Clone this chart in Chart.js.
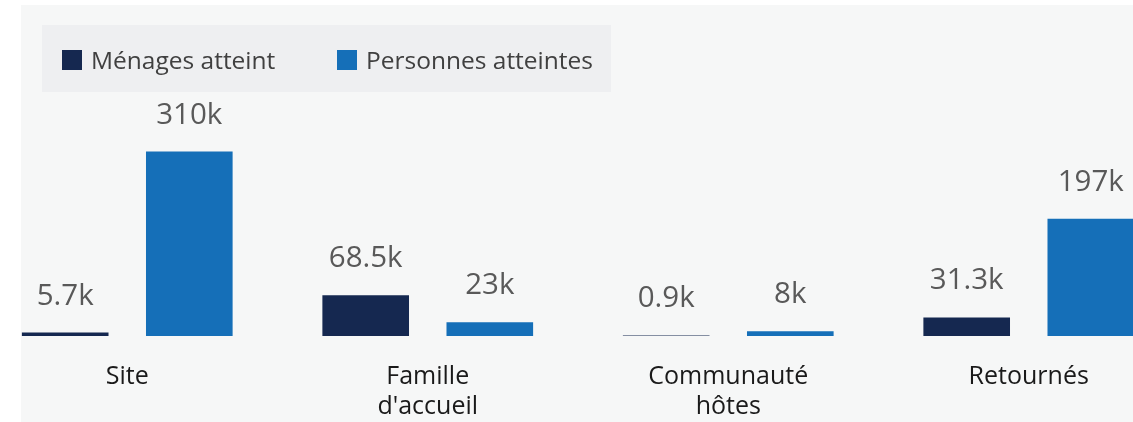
<!DOCTYPE html>
<html>
<head>
<meta charset="utf-8">
<script src="https://cdn.jsdelivr.net/npm/chart.js@4"></script>
<style>
  html, body { margin: 0; padding: 0; width: 1133px; height: 422px; overflow: hidden; background: #ffffff; }
  #panel { position: absolute; left: 21px; top: 5px; width: 1112px; height: 417px; background: #f6f7f7; }
  #wrap { position: absolute; left: -23px; top: 0; width: 1202px; height: 422px; }
  #legend { position: absolute; left: 42px; top: 25px; width: 569px; height: 67px; background: #eeeff1;
            font-family: "Open Sans", sans-serif; font-size: 24.5px; color: #404040; }
  .item { position: absolute; top: 1px; height: 67px; line-height: 67px; white-space: nowrap; }
  .sw { position: absolute; top: 24px; width: 20px; height: 20px; }
</style>
</head>
<body>
<div id="panel"></div>
<div id="wrap"><canvas id="myChart"></canvas></div>
<div id="legend"></div>
<script>
const categories = ["Site", ["Famille", "d'accueil"], ["Communauté", "hôtes"], "Retournés"];
const seriesNames = ["Ménages atteint", "Personnes atteintes"];
const menages = [5700, 68500, 900, 31300];
const personnes = [310000, 23000, 8000, 197000];
const colors = ["#152850", "#156fb8"];

// légende en HTML
const legend = document.getElementById("legend");
const legendX = [20, 295];
seriesNames.forEach((name, i) => {
    const item = document.createElement("div");
    item.className = "item";
    item.style.left = legendX[i] + "px";
    item.innerHTML = `<span class="sw" style="left:0;background:${colors[i]}"></span>` +
                     `<span style="margin-left:29px">${name}</span>`;
    legend.appendChild(item);
});

const fmt = v => (v / 1000).toString() + "k";

// étiquettes au-dessus des barres
const valueLabels = {
    id: "valueLabels",
    afterDatasetsDraw(chart) {
        const ctx = chart.ctx;
        ctx.save();
        ctx.font = "29.5px 'Open Sans', sans-serif";
        ctx.fillStyle = "#595959";
        ctx.textAlign = "center";
        ctx.textBaseline = "alphabetic";
        chart.data.datasets.forEach((ds, i) => {
            chart.getDatasetMeta(i).data.forEach((bar, j) => {
                ctx.fillText(fmt(ds.data[j]), bar.x, bar.y - 28);
            });
        });
        ctx.restore();
    }
};

new Chart(document.getElementById("myChart"), {
    type: "bar",
    data: {
        labels: categories,
        datasets: [
            { label: seriesNames[0], data: menages, backgroundColor: colors[0],
              categoryPercentage: 0.826, barPercentage: 0.698 },
            { label: seriesNames[1], data: personnes, backgroundColor: colors[1],
              categoryPercentage: 0.826, barPercentage: 0.698 }
        ]
    },
    options: {
        responsive: true,
        maintainAspectRatio: false,
        animation: false,
        layout: { padding: { top: 98, left: 0, right: 0, bottom: 0 } },
        plugins: { legend: { display: false }, tooltip: { enabled: false } },
        scales: {
            x: {
                grid: { display: false },
                border: { display: false },
                ticks: { color: "#1a1a1a", padding: 18, maxRotation: 0, autoSkip: false,
                         font: { family: "'Open Sans', sans-serif", size: 25, lineHeight: 1.2 } },
                afterFit: s => { s.height = 86; }
            },
            y: { display: false, min: 0, max: 400000 }
        }
    },
    plugins: [valueLabels]
});
</script>
</body>
</html>
